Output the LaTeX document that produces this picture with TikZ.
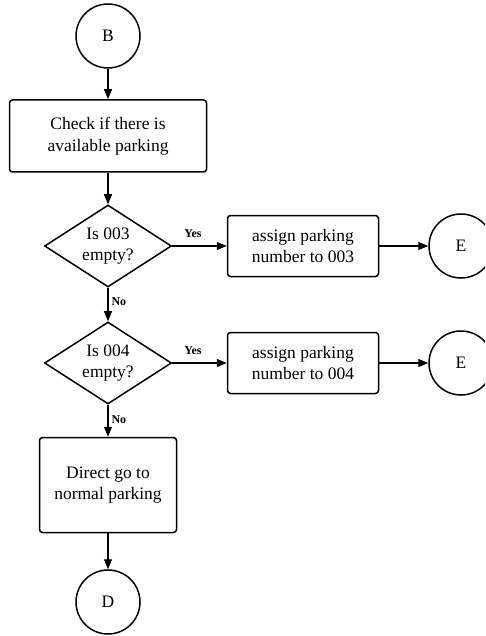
\documentclass[tikz,border=0pt]{standalone}
\usepackage{fontspec}
\setmainfont{Liberation Serif}
\usetikzlibrary{arrows.meta,shapes.geometric}
\begin{document}
\begin{tikzpicture}[x=1pt,y=-1pt,
 every node/.style={font=\fontsize{17.5}{21.5}\selectfont},
 term/.style={circle,draw,line width=1.5pt,minimum size=64pt,inner sep=0pt},
 proc/.style={draw,rounded corners=3pt,line width=1.5pt,align=center,inner sep=0pt},
 dec/.style={diamond,draw,line width=1.5pt,align=center,inner sep=0pt,aspect=1.5,minimum width=127pt,minimum height=82pt},
 conn/.style={line width=1.1pt,-{Triangle[length=10pt,width=8pt]}},
 lab/.style={font=\bfseries\fontsize{12}{14}\selectfont,inner sep=0pt}]
\useasboundingbox (0,0) rectangle (485,636);
\clip (0,0) rectangle (485,636);
\node[term] (b) at (108,36) {B};
\node[proc,minimum width=197pt,minimum height=72pt] (check) at (108,136) {Check if there is\\available parking};
\node[dec] (d1) at (108,246) {Is 003\\empty?};
\node[proc,minimum width=151pt,minimum height=61pt] (a3) at (303,246) {assign parking\\number to 003};
\node[term] (e1) at (461,246) {E};
\node[dec] (d2) at (108,363) {Is 004\\empty?};
\node[proc,minimum width=151pt,minimum height=61pt] (a4) at (303,363) {assign parking\\number to 004};
\node[term] (e2) at (461,363) {E};
\node[proc,minimum width=137pt,minimum height=95pt] (direct) at (108,485) {Direct go to\\normal parking};
\node[term] (d) at (108,602) {D};
\draw[conn] (b) -- (check);
\draw[conn] (check) -- (d1);
\draw[conn] (d1) -- node[lab,pos=0.38,above=8pt] {Yes} (a3);
\draw[conn] (a3) -- (e1);
\draw[conn] (d1) -- node[lab,pos=0.4,right=3pt] {No} (d2);
\draw[conn] (d2) -- node[lab,pos=0.38,above=8pt] {Yes} (a4);
\draw[conn] (a4) -- (e2);
\draw[conn] (d2) -- node[lab,pos=0.45,right=3pt] {No} (direct);
\draw[conn] (direct) -- (d);
\end{tikzpicture}
\end{document}
